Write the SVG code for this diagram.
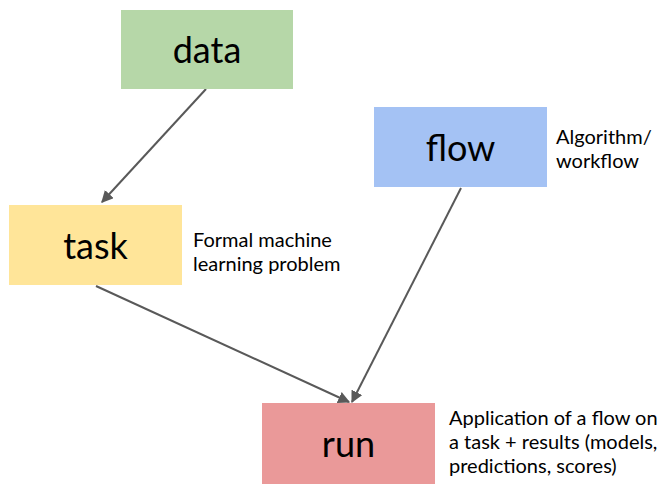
<svg xmlns="http://www.w3.org/2000/svg" width="661" height="485" viewBox="0 0 661 485">
<style>
.big{font-family:Lato,"Liberation Sans",sans-serif;font-size:36px;fill:#000;text-anchor:middle;dominant-baseline:central}
.note{font-family:Lato,"Liberation Sans",sans-serif;font-size:20px;fill:#000}
.edge{stroke:#595959;stroke-width:2;fill:none;marker-end:url(#ah)}
</style>
<defs>
<marker id="ah" viewBox="0 0 10 10" refX="9" refY="5" markerWidth="6" markerHeight="6" orient="auto" markerUnits="strokeWidth">
<path d="M0,0 L10,5 L0,10 Z" fill="#595959"/>
</marker>
</defs>
<rect width="661" height="485" fill="#fff"/>
<g id="connectors">
<line class="edge" x1="206" y1="89" x2="102" y2="202"/>
<line class="edge" x1="96" y1="286" x2="349" y2="402"/>
<line class="edge" x1="461" y1="188" x2="352" y2="402"/>
</g>
<g id="data">
<rect x="121" y="10" width="172" height="79" fill="#b6d7a8"/>
<text class="big" x="207" y="49">data</text>
</g>
<g id="flow">
<rect x="374" y="107" width="173" height="80" fill="#a4c2f4"/>
<text class="big" x="460.5" y="147">flow</text>
<text class="note" x="556" y="144">Algorithm/</text>
<text class="note" x="556" y="168">workflow</text>
</g>
<g id="task">
<rect x="9" y="205" width="173" height="80" fill="#ffe599"/>
<text class="big" x="95.5" y="245">task</text>
<text class="note" x="193" y="247">Formal machine</text>
<text class="note" x="193" y="271">learning problem</text>
</g>
<g id="run">
<rect x="262" y="403" width="173" height="81" fill="#ea9999"/>
<text class="big" x="348.5" y="443">run</text>
<text class="note" x="449" y="425">Application of a flow on</text>
<text class="note" x="449" y="449">a task + results (models,</text>
<text class="note" x="449" y="473">predictions, scores)</text>
</g>
</svg>
